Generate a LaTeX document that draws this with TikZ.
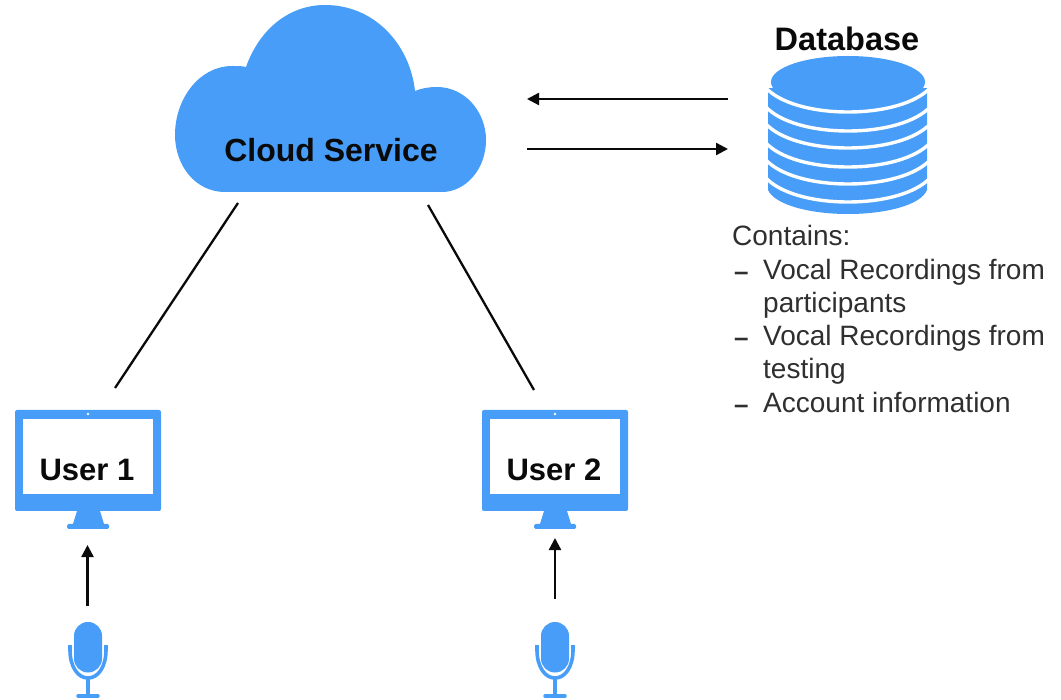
\documentclass[tikz,border=0pt]{standalone}
\usepackage{fontspec}
\setmainfont{Liberation Sans}
\usetikzlibrary{arrows.meta}
\definecolor{iconblue}{HTML}{479DF7}
\definecolor{ink}{HTML}{0A0A0A}
\newcommand{\monitoricon}[2]{%
  \begin{scope}[xshift=#1]
    \fill[iconblue,rounded corners=2] (15,410) rectangle (161,511);
    \fill[white] (23,419) rectangle (153,494);
    \fill[white] (88,414) circle (1.4);
    \fill[iconblue] (77,511) -- (100,511) -- (104,524) -- (73,524) -- cycle;
    \fill[iconblue,rounded corners=1.5] (67,524) rectangle (109,529);
    \node[boldlabel,font=\fontsize{31}{31}\selectfont\bfseries] (#2) at (87,481) {#2};
  \end{scope}}
\newcommand{\micicon}[1]{%
  \begin{scope}[xshift=#1]
    \fill[iconblue,rounded corners=13.9] (74,622) rectangle (102,672.5);
    \draw[iconblue,line width=3.6] (70,645) -- (70,650) .. controls (70,667) and (78,678) .. (88,678) .. controls (98,678) and (106,667) .. (106,650) -- (106,645);
    \draw[iconblue,line width=3.5] (88,678) -- (88,696);
    \draw[iconblue,line width=3.5,line cap=round] (78,696) -- (98,696);
  \end{scope}}
\tikzset{
  x=1pt,y=-1pt,
  boldlabel/.style={anchor=base,inner sep=0,text=ink,font=\fontsize{32.5}{32.5}\selectfont\bfseries},
  bodytext/.style={anchor=base west,inner sep=0,text=ink!85!white,font=\fontsize{28}{28}\selectfont},
  dashmark/.style={anchor=base west,inner sep=0,text=ink!85!white,font=\fontsize{26}{26}\selectfont\bfseries},
  link/.style={line width=2.3,ink},
  flow/.style={line width=2.3,ink,-{Triangle[length=12,width=12]}},
  band/.style={white,line width=3.4},
}
\begin{document}
\begin{tikzpicture}
\useasboundingbox (0,0) rectangle (1061,700);
% cloud
\fill[iconblue] (225,192)
  .. controls (195,192) and (175,165) .. (175,135)
  .. controls (175,98) and (200,66) .. (232,66)
  .. controls (238,66) and (242,66) .. (246,67)
  .. controls (260,28) and (290,5) .. (325,5)
  .. controls (375,5) and (410,45) .. (415,91)
  .. controls (422,88) and (430,87) .. (437,87)
  .. controls (465,87) and (486,112) .. (486,140)
  .. controls (486,170) and (465,192) .. (442,192)
  -- cycle;
\node[boldlabel,font=\fontsize{32}{32}\selectfont\bfseries] (cloud) at (331,162) {Cloud Service};
% database
\node[boldlabel] (dbtitle) at (847,51) {Database};
\fill[iconblue] (768,85) -- (768,190) .. controls (775,205) and (810,214) .. (848,214)
  .. controls (886,214) and (921,205) .. (927,190) -- (927,85) -- cycle;
\foreach \bb in {112,131,148,167,184,202}{
  \draw[band] (766,\bb-24) .. controls (780,\bb-9) and (812,\bb) .. (848,\bb)
     .. controls (884,\bb) and (916,\bb-9) .. (930,\bb-24);
}
\fill[white] (764,70) rectangle (932,88);
\fill[iconblue] (848,82) ellipse (77 and 26);
% monitors
\monitoricon{0}{User 1}
\monitoricon{467}{User 2}
\micicon{0}
\micicon{467}
% connector ends
\coordinate (cloudL) at (238,203);
\coordinate (userL) at (115,388);
\coordinate (cloudR) at (428,205);
\coordinate (userR) at (534,390);
\coordinate (cloudOut) at (527,149);
\coordinate (dbIn) at (728,149);
\coordinate (dbOut) at (728,99);
\coordinate (cloudIn) at (527,99);
\coordinate (mic1) at (87.5,606);
\coordinate (mon1) at (87.5,545);
\coordinate (mic2) at (555,599);
\coordinate (mon2) at (555,538);
\draw[link] (cloudL) -- (userL);
\draw[link] (cloudR) -- (userR);
\draw[flow] (dbOut) -- (cloudIn);
\draw[flow] (cloudOut) -- (dbIn);
\draw[flow] (mic1) -- (mon1);
\draw[flow] (mic2) -- (mon2);
% text
\node[bodytext] (contains) at (732,246) {Contains:};
\node[dashmark] (d1) at (734,281) {–};
\node[bodytext] (l1) at (763,280) {Vocal Recordings from};
\node[bodytext] (l2) at (763,313) {participants};
\node[dashmark] (d2) at (734,347) {–};
\node[bodytext] (l3) at (763,346) {Vocal Recordings from};
\node[bodytext] (l4) at (763,379) {testing};
\node[dashmark] (d3) at (734,414) {–};
\node[bodytext] (l5) at (763,413) {Account information};
\end{tikzpicture}
\end{document}
